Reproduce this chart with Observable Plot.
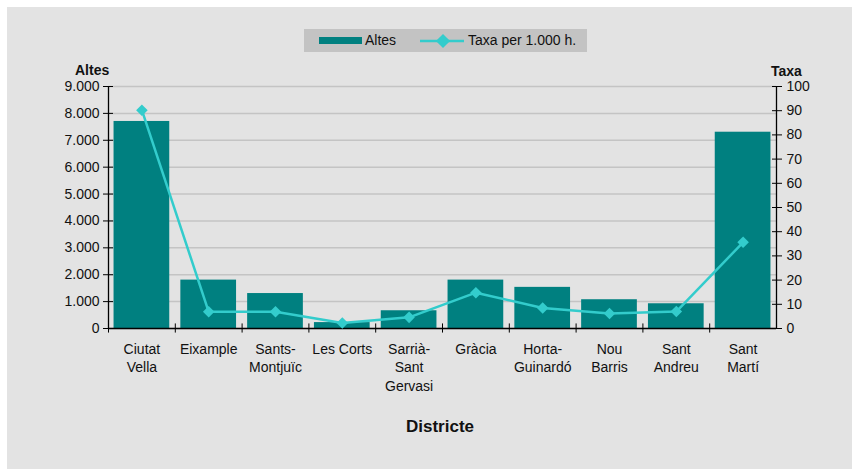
<!DOCTYPE html>
<html>
<head>
<meta charset="utf-8">
<script src="https://cdn.jsdelivr.net/npm/d3@7"></script>
<script src="https://cdn.jsdelivr.net/npm/@observablehq/plot@0.6"></script>
<style>
  body { margin: 0; background: #fff; font-family: "Liberation Sans", Arial, sans-serif; color: #111; }
  #wrap { position: relative; width: 852px; height: 469px; overflow: hidden; }
  #bg { position: absolute; left: 7px; top: 7px; right: 0; bottom: 0; background: #e3e3e3; }
  #chart { position: absolute; left: 0; top: 0; }
  .lbl { position: absolute; font-weight: bold; font-size: 14px; line-height: 14px; white-space: nowrap; }
  #legend { position: absolute; left: 304px; top: 29px; width: 283px; height: 23px; background: #c3c3c3; }
  #legend .t { position: absolute; font-size: 14px; line-height: 14px; top: 4px; white-space: nowrap; }
</style>
</head>
<body>
<div id="wrap">
  <div id="bg"></div>
  <div id="chart"></div>
  <div class="lbl" style="left:75px;top:63px;">Altes</div>
  <div class="lbl" style="left:771px;top:64px;">Taxa</div>
  <div class="lbl" style="left:340px;width:200px;text-align:center;top:418px;font-size:17px;line-height:17px;">Districte</div>
  <div id="legend">
    <div style="position:absolute;left:15px;top:8px;width:43px;height:7px;background:#008080;"></div>
    <div class="t" style="left:61px;">Altes</div>
    <svg style="position:absolute;left:116px;top:4px;" width="46" height="16">
      <line x1="0" y1="8" x2="44" y2="8" stroke="#33cccc" stroke-width="2.5"></line>
      <rect x="18" y="3" width="10" height="10" fill="#33cccc" transform="rotate(45 23 8)"></rect>
    </svg>
    <div class="t" style="left:164px;">Taxa per 1.000 h.</div>
  </div>
</div>
<script>
const districts = ["Ciutat Vella", "Eixample", "Sants-Montjuïc", "Les Corts", "Sarrià-Sant Gervasi", "Gràcia", "Horta-Guinardó", "Nou Barris", "Sant Andreu", "Sant Martí"];
const tickLabels = ["Ciutat\nVella", "Eixample", "Sants-\nMontjuïc", "Les Corts", "Sarrià-\nSant\nGervasi", "Gràcia", "Horta-\nGuinardó", "Nou\nBarris", "Sant\nAndreu", "Sant\nMartí"];
const altes = [7700, 1800, 1300, 220, 660, 1800, 1530, 1070, 920, 7300];
const taxa = [90.2, 6.9, 6.9, 2.3, 4.6, 14.8, 8.5, 6.2, 7.0, 35.6];
const altesTicks = d3.range(0, 9001, 1000);
const taxaTicks = d3.range(0, 101, 10);

const altesMax = 9000, taxaMax = 100;
const k = altesMax / taxaMax; // maps taxa onto the altes scale (right axis)

const data = districts.map((d, i) => ({district: d, label: tickLabels[i], altes: altes[i], taxa: taxa[i]}));

const W = 852, H = 469, mL = 108, mR = 76, mT = 86, mB = 141;
const step = (W - mL - mR) / districts.length;

const loc = d3.formatLocale({decimal: ",", thousands: ".", grouping: [3], currency: ["", ""]});
const fmt = loc.format(",");

const plot = Plot.plot({
  width: W, height: H,
  marginLeft: mL, marginRight: mR, marginTop: mT, marginBottom: mB,
  style: {fontFamily: "Liberation Sans, Arial, sans-serif", fontSize: "14px", color: "#111", background: "transparent", overflow: "visible"},
  x: {type: "band", domain: districts, paddingInner: 0.166, paddingOuter: 0.083, round: false, label: null},
  y: {domain: [0, altesMax], label: null},
  marks: [
    Plot.gridY(altesTicks, {stroke: "#c4c4c4", strokeOpacity: 1, strokeWidth: 1.5}),
    Plot.barY(data, {x: "district", y: "altes", fill: "#008080"}),
    // axis lines
    Plot.ruleY([0], {stroke: "#000", strokeWidth: 1.3}),
    Plot.ruleX([districts[0]], {x: d => d, dx: -step / 2, y1: 0, y2: altesMax, stroke: "#000", strokeWidth: 1.3}),
    Plot.ruleX([districts[districts.length - 1]], {x: d => d, dx: step / 2, y1: 0, y2: altesMax, stroke: "#000", strokeWidth: 1.3}),
    // category boundary ticks crossing the x axis
    Plot.ruleX(districts, {x: d => d, dx: -step / 2, y1: -170, y2: 170, stroke: "#000", strokeWidth: 1}),
    // left axis
    Plot.axisY(altesTicks, {anchor: "left", tickSize: 5, tickPadding: 4, tickFormat: fmt, label: null, stroke: "#000"}),
    Plot.axisY(altesTicks, {anchor: "left", tickSize: 5, dx: 5, fill: "none", label: null, stroke: "#000"}),
    // right axis (taxa)
    Plot.axisY(taxaTicks.map(v => v * k), {anchor: "right", tickSize: 5, tickPadding: 5, tickFormat: d => Math.round(d / k), label: null, stroke: "#000"}),
    Plot.axisY(taxaTicks.map(v => v * k), {anchor: "right", tickSize: 5, dx: -5, fill: "none", label: null, stroke: "#000"}),
    // x axis labels
    Plot.axisX({tickSize: 0, tickPadding: 12, tickFormat: d => tickLabels[districts.indexOf(d)], lineHeight: 1.32, label: null}),
    // taxa line
    Plot.line(data, {x: "district", y: d => d.taxa * k, stroke: "#33cccc", strokeWidth: 2.5}),
    Plot.dot(data, {x: "district", y: d => d.taxa * k, symbol: "diamond2", r: 5.2, fill: "#33cccc", stroke: null})
  ]
});
document.getElementById("chart").appendChild(plot);
</script>
</body>
</html>
